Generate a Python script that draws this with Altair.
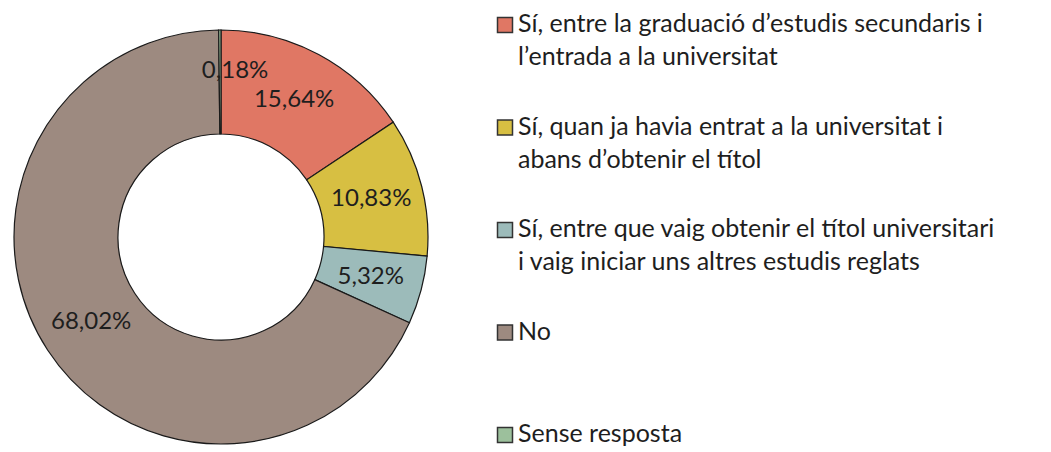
import altair as alt
import pandas as pd

categories = [
    "Sí, entre la graduació d’estudis secundaris i\nl’entrada a la universitat",
    "Sí, quan ja havia entrat a la universitat i\nabans d’obtenir el títol",
    "Sí, entre que vaig obtenir el títol universitari\ni vaig iniciar uns altres estudis reglats",
    "No",
    "Sense resposta",
]
values = [15.64, 10.83, 5.32, 68.02, 0.18]
value_labels = ["15,64%", "10,83%", "5,32%", "68,02%", "0,18%"]
colors = ["#E07764", "#D7BF42", "#9CBBBA", "#9D8A80", "#9CC09C"]

df = pd.DataFrame({
    "cat": categories,
    "value": values,
    "lab": value_labels,
    "ord": list(range(len(categories))),
})

FONT = "Lato"
color_scale = alt.Scale(domain=categories, range=colors)

base = alt.Chart(df).transform_calculate(
    main="datum.value > 1 ? datum.lab : ''",
    small="datum.value > 1 ? '' : datum.lab",
).encode(
    theta=alt.Theta("value:Q", stack=True),
    order=alt.Order("ord:Q"),
    x=alt.value(213),
    y=alt.value(229),
)

arcs = base.mark_arc(outerRadius=207, innerRadius=103, stroke="#1a1a1a", strokeWidth=1.2).encode(
    color=alt.Color("cat:N", scale=color_scale, legend=None),
)
txt_main = base.mark_text(radius=155, font=FONT, fontSize=24, color="#1e1e1e").encode(
    text="main:N"
)
txt_small = base.mark_text(radius=166, dx=15, font=FONT, fontSize=24, color="#1e1e1e").encode(
    text="small:N"
)

donut = alt.layer(arcs, txt_main, txt_small).properties(width=470, height=436)

leg_base = alt.Chart(df).transform_calculate(
    lines="split(datum.cat, '\\n')"
).encode(
    y=alt.Y("cat:N", sort=categories, axis=None,
            scale=alt.Scale(type="point", range=[17, 427], padding=0)),
)
squares = leg_base.mark_square(size=225, stroke="#333333", strokeWidth=1.5, opacity=1).encode(
    x=alt.value(27),
    color=alt.Color("cat:N", scale=color_scale, legend=None),
)
leg_text = leg_base.mark_text(align="left", baseline="top", dy=-13, lineHeight=33,
                              font=FONT, fontSize=25, color="#1e1e1e").encode(
    x=alt.value(40),
    text="lines:N",
)
legend = alt.layer(squares, leg_text).properties(width=555, height=436)

chart = alt.hconcat(donut, legend, spacing=0).properties(padding=0).configure_view(stroke=None)

chart.save("out.html", embed_options={"renderer": "svg", "actions": False})
